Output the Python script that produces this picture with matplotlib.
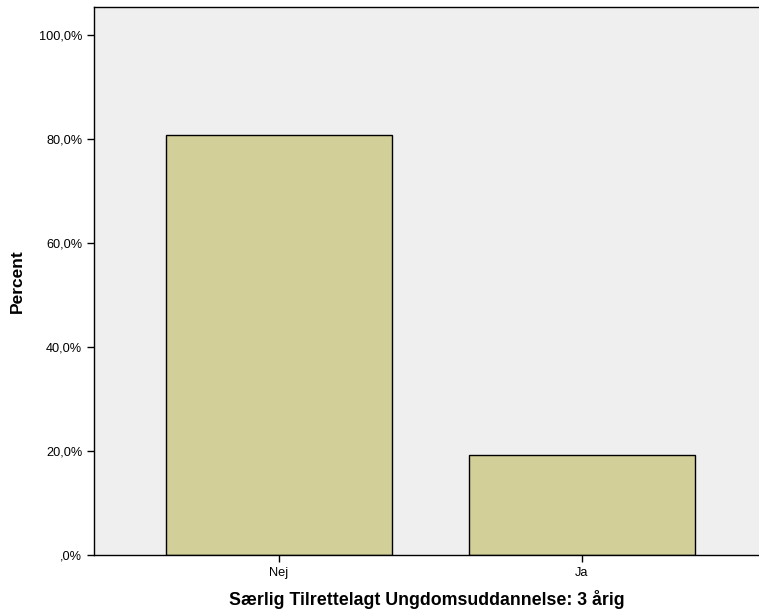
import matplotlib.pyplot as plt
from matplotlib.ticker import FuncFormatter

categories = ["Nej", "Ja"]
percent = [80.8, 19.2]
yticks = [0, 20, 40, 60, 80, 100]

plt.rcParams['font.family'] = ['Liberation Sans', 'DejaVu Sans']

fig = plt.figure(figsize=(7.59, 6.15), dpi=100)
ax = fig.add_axes([94/759, 1 - 555/615, 1 - 94/759, (555 - 7)/615])
ax.set_facecolor("#efefef")

x = range(len(categories))
ax.bar(x, percent, width=0.746, color="#d3cf98", edgecolor="black", linewidth=1)

ax.set_xlim(-0.61, 0.585 + 1)
ax.set_ylim(0, 105.4)
ax.set_xticks(list(x))
ax.set_xticklabels(categories)
ax.set_yticks(yticks)
ax.yaxis.set_major_formatter(FuncFormatter(lambda v, p: (f"{v:.1f}%".replace(".", ",") if v != 0 else ",0%")))
ax.tick_params(axis="both", direction="out", length=5, width=1, labelsize=9.2, color="black")

ax.spines["right"].set_visible(False)
for s in ["left", "bottom", "top"]:
    ax.spines[s].set_linewidth(1)

ax.set_ylabel("Percent", fontsize=12.5, fontweight="bold", labelpad=10)
ax.set_xlabel("Særlig Tilrettelagt Ungdomsuddannelse: 3 årig", fontsize=12.8, fontweight="bold", labelpad=8)

fig.savefig("out.png", dpi=100)
